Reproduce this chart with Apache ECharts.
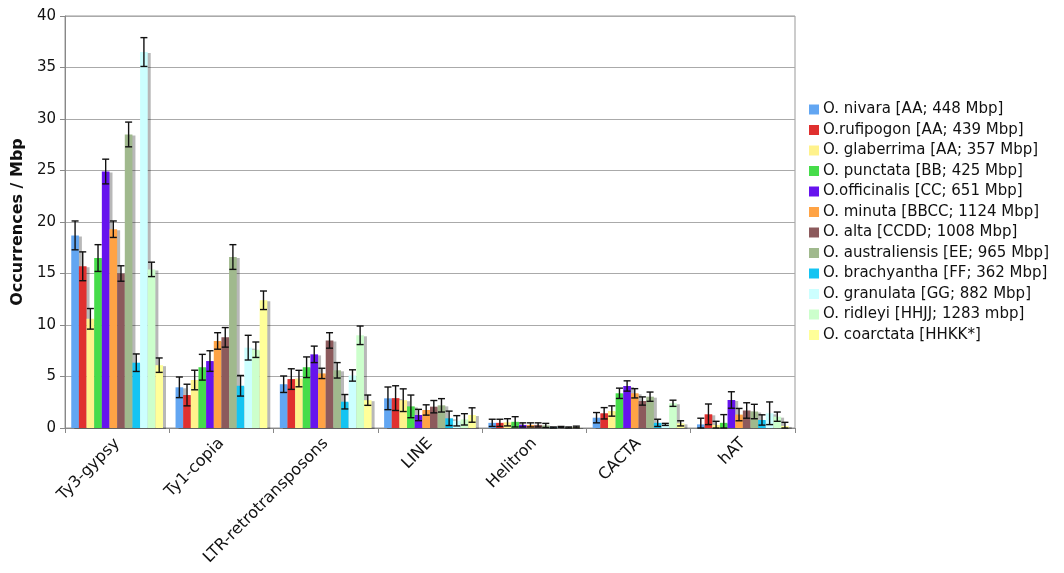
<!DOCTYPE html>
<html><head><meta charset="utf-8">
<script src="https://cdn.jsdelivr.net/npm/echarts@6/dist/echarts.min.js"></script>
<style>html,body{margin:0;padding:0;background:#fff}#c{width:1064px;height:573px}</style>
</head><body><div id="c"></div>
<script>
const categories = ['Ty3-gypsy','Ty1-copia','LTR-retrotransposons','LINE','Helitron','CACTA','hAT'];
const speciesNames = [
  'O. nivara [AA; 448 Mbp]','O.rufipogon [AA; 439 Mbp]','O. glaberrima [AA; 357 Mbp]',
  'O. punctata [BB; 425 Mbp]','O.officinalis [CC; 651 Mbp]','O. minuta [BBCC; 1124 Mbp]',
  'O. alta [CCDD; 1008 Mbp]','O. australiensis [EE; 965 Mbp]','O. brachyantha [FF; 362 Mbp]',
  'O. granulata [GG; 882 Mbp]','O. ridleyi [HHJJ; 1283 mbp]','O. coarctata [HHKK*]'
];
const colors = ['#62a6f2','#e0302f','#fff28c','#46dc4a','#6613ee','#ffa345','#8c5a5c','#a0b98d','#14c4f2','#ccffff','#ccffcc','#ffff99'];

const nivara        = [18.7, 3.95, 4.25, 2.88, 0.5, 1.0, 0.35];
const rufipogon     = [15.7, 3.2, 4.75, 2.9, 0.5, 1.43, 1.33];
const glaberrima    = [10.6, 4.66, 4.8, 2.7, 0.55, 1.65, 0.3];
const punctata      = [16.5, 5.9, 5.9, 2.1, 0.6, 3.37, 0.5];
const officinalis   = [24.9, 6.5, 7.15, 1.26, 0.3, 4.08, 2.72];
const minuta        = [19.3, 8.45, 5.3, 1.75, 0.3, 3.37, 1.3];
const alta          = [15.0, 8.8, 8.5, 2.07, 0.3, 2.62, 1.7];
const australiensis = [28.5, 16.6, 5.6, 2.2, 0.25, 3.04, 1.6];
const brachyantha   = [6.34, 4.1, 2.55, 0.94, 0.05, 0.5, 0.78];
const granulata     = [36.5, 7.8, 5.1, 0.7, 0.1, 0.35, 1.43];
const ridleyi       = [15.4, 7.6, 9.0, 0.84, 0.05, 2.4, 1.1];
const coarctata     = [6.1, 12.4, 2.7, 1.26, 0.1, 0.45, 0.2];

const nivaraErr        = [1.4, 1.0, 0.8, 1.1, 0.35, 0.5, 0.6];
const rufipogonErr     = [1.4, 1.05, 1.0, 1.2, 0.35, 0.55, 1.0];
const glaberrimaErr    = [1.0, 0.95, 0.8, 1.1, 0.35, 0.5, 0.35];
const punctataErr      = [1.3, 1.25, 1.0, 1.1, 0.5, 0.5, 0.8];
const officinalisErr   = [1.2, 1.0, 0.8, 0.55, 0.2, 0.5, 0.8];
const minutaErr        = [0.8, 0.8, 0.5, 0.5, 0.2, 0.45, 0.6];
const altaErr          = [0.75, 0.95, 0.75, 0.6, 0.2, 0.4, 0.75];
const australiensisErr = [1.2, 1.2, 0.75, 0.65, 0.2, 0.45, 0.7];
const brachyanthaErr   = [0.85, 1.0, 0.7, 0.7, 0.05, 0.35, 0.5];
const granulataErr     = [1.4, 1.2, 0.55, 0.5, 0.05, 0.1, 1.1];
const ridleyiErr       = [0.7, 0.75, 0.9, 0.55, 0.05, 0.3, 0.45];
const coarctataErr     = [0.7, 0.9, 0.5, 0.7, 0.08, 0.25, 0.35];

const yTicks = [0, 5, 10, 15, 20, 25, 30, 35, 40];

const values = [nivara,rufipogon,glaberrima,punctata,officinalis,minuta,alta,australiensis,brachyantha,granulata,ridleyi,coarctata];
const errs = [nivaraErr,rufipogonErr,glaberrimaErr,punctataErr,officinalisErr,minutaErr,altaErr,australiensisErr,brachyanthaErr,granulataErr,ridleyiErr,coarctataErr];

const CAT_GAP = 0.12;
const N = values.length;
const FONT = 'DejaVu Sans, Verdana, sans-serif';

const series = values.map((v, i) => ({
  name: speciesNames[i], type: 'bar', data: v,
  barGap: '0%', barCategoryGap: (CAT_GAP*100)+'%',
  itemStyle: { color: colors[i], shadowColor: 'rgba(0,0,0,0.28)', shadowBlur: 0, shadowOffsetX: 3, shadowOffsetY: 1 },
  emphasis: { disabled: true }, animation: false
}));

const errData = [];
values.forEach((v, s) => v.forEach((val, c) => errData.push([c, val, errs[s][c], s])));

series.push({
  type: 'custom', name: 'err', data: errData, z: 10, animation: false, silent: true,
  encode: { x: 0, y: 1 },
  renderItem: function (params, api) {
    const c = api.value(0), val = api.value(1), e = api.value(2), s = api.value(3);
    const center = api.coord([c, 0])[0];
    const band = api.size([1, 0])[0];
    const groupW = band * (1 - CAT_GAP);
    const barW = groupW / N;
    const x = center - groupW / 2 + (s + 0.5) * barW;
    const yT = api.coord([c, val + e])[1];
    const yB = api.coord([c, Math.max(0, val - e)])[1];
    const cap = 3.5;
    const st = { stroke: '#111', lineWidth: 1.4 };
    return { type: 'group', children: [
      { type: 'line', shape: { x1: x, y1: yT, x2: x, y2: yB }, style: st },
      { type: 'line', shape: { x1: x - cap, y1: yT, x2: x + cap, y2: yT }, style: st },
      { type: 'line', shape: { x1: x - cap, y1: yB, x2: x + cap, y2: yB }, style: st }
    ]};
  }
});

const chart = echarts.init(document.getElementById('c'), null, { renderer: 'canvas' });
chart.setOption({
  backgroundColor: '#fff',
  animation: false,
  grid: { left: 65, right: 269, top: 16, bottom: 145, show: true, borderColor: '#999', borderWidth: 1 },
  legend: {
    data: speciesNames, orient: 'vertical', left: 809, top: 102, padding: 0,
    itemWidth: 10, itemHeight: 10, itemGap: 5.5,
    icon: 'rect', selectedMode: false,
    textStyle: { fontFamily: FONT, fontSize: 15, lineHeight: 15, color: '#111', padding: [0, 0, 0, -1] }
  },
  xAxis: {
    type: 'category', data: categories,
    axisLine: { lineStyle: { color: '#888' } },
    axisTick: { show: true, length: 5, lineStyle: { color: '#888' } },
    axisLabel: { rotate: 45, fontFamily: FONT, fontSize: 16, color: '#111', margin: 13 }
  },
  yAxis: {
    type: 'value', min: 0, max: 40, interval: 5,
    name: 'Occurrences / Mbp', nameLocation: 'middle', nameGap: 36,
    nameTextStyle: { fontFamily: FONT, fontSize: 16, fontWeight: 'bold', color: '#111' },
    axisLine: { show: true, lineStyle: { color: '#888' } },
    axisTick: { show: true, length: 5, lineStyle: { color: '#888' } },
    axisLabel: { fontFamily: FONT, fontSize: 15, color: '#111', margin: 9,
      formatter: v => yTicks.includes(v) ? String(v) : '' },
    splitLine: { lineStyle: { color: '#aaa' } }
  },
  series: series
});
</script></body></html>
